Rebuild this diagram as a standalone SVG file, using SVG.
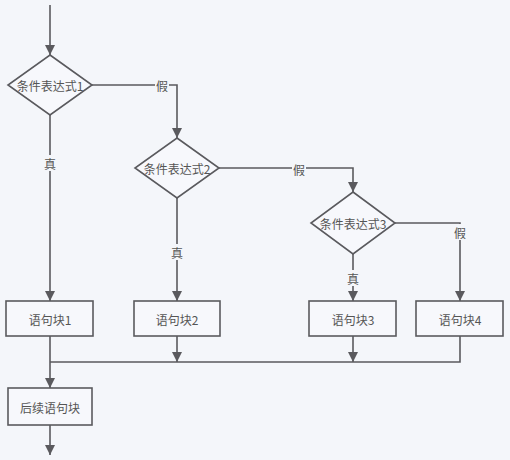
<svg xmlns="http://www.w3.org/2000/svg" width="510" height="460" viewBox="0 0 510 460">
<defs>
<marker id="arr" markerUnits="userSpaceOnUse" markerWidth="10" markerHeight="12" refX="10" refY="5" orient="auto">
<path d="M0,0 L10,5 L0,10 z" fill="#5a5a5e"/>
</marker>
<style>
.shape{fill:#f7f8fc;stroke:#5a5a5e;stroke-width:1.6}
.t{font-family:"Noto Sans CJK SC","Liberation Sans",sans-serif;font-size:12px;fill:#555;text-anchor:middle;dominant-baseline:central}
.c{fill:none;stroke:#5a5a5e;stroke-width:1.6}
.a{marker-end:url(#arr)}
.lb{fill:#f4f6fa}
</style>
</defs>
<rect x="0" y="0" width="510" height="460" fill="#f4f6fa"/>
<g id="connectors">
<path class="c a" d="M50,5 V55"/>
<path class="c a" d="M50,115 V301"/>
<path class="c a" d="M92,85 H177 V138"/>
<path class="c a" d="M177,198 V301"/>
<path class="c a" d="M219,168 H353 V192"/>
<path class="c a" d="M353,253 V301"/>
<path class="c a" d="M394,223 H460 V301"/>
<path class="c a" d="M50,336 V388"/>
<path class="c a" d="M177,336 V362"/>
<path class="c a" d="M353,336 V362"/>
<path class="c" d="M460,336 V362 H50"/>
<path class="c a" d="M50,425 V455"/>
<rect class="lb" x="43" y="155" width="14" height="16"/>
<text class="t" x="50" y="163">真</text>
<rect class="lb" x="155" y="77" width="14" height="16"/>
<text class="t" x="162" y="85">假</text>
<rect class="lb" x="170" y="244" width="14" height="16"/>
<text class="t" x="177" y="252">真</text>
<rect class="lb" x="292" y="160" width="14" height="16"/>
<text class="t" x="299" y="169">假</text>
<rect class="lb" x="346" y="270" width="14" height="16"/>
<text class="t" x="353" y="278">真</text>
<rect class="lb" x="453" y="224" width="14" height="16"/>
<text class="t" x="460" y="232">假</text>
</g>
<g id="cond1"><path class="shape" d="M50,55 L92,85 L50,115 L8,85 z"/><text class="t" x="50" y="85">条件表达式1</text></g>
<g id="cond2"><path class="shape" d="M177,138 L219,168 L177,198 L135,168 z"/><text class="t" x="177" y="168">条件表达式2</text></g>
<g id="cond3"><path class="shape" d="M353,192 L395,223 L353,254 L311,223 z"/><text class="t" x="353" y="223">条件表达式3</text></g>
<g id="block1"><rect class="shape" x="6" y="301" width="87" height="35"/><text class="t" x="50" y="319">语句块1</text></g>
<g id="block2"><rect class="shape" x="134" y="301" width="86" height="35"/><text class="t" x="177" y="319">语句块2</text></g>
<g id="block3"><rect class="shape" x="309" y="301" width="87" height="35"/><text class="t" x="353" y="319">语句块3</text></g>
<g id="block4"><rect class="shape" x="416" y="301" width="87" height="35"/><text class="t" x="460" y="319">语句块4</text></g>
<g id="next"><rect class="shape" x="8" y="388" width="84" height="37"/><text class="t" x="50" y="407">后续语句块</text></g>
</svg>
